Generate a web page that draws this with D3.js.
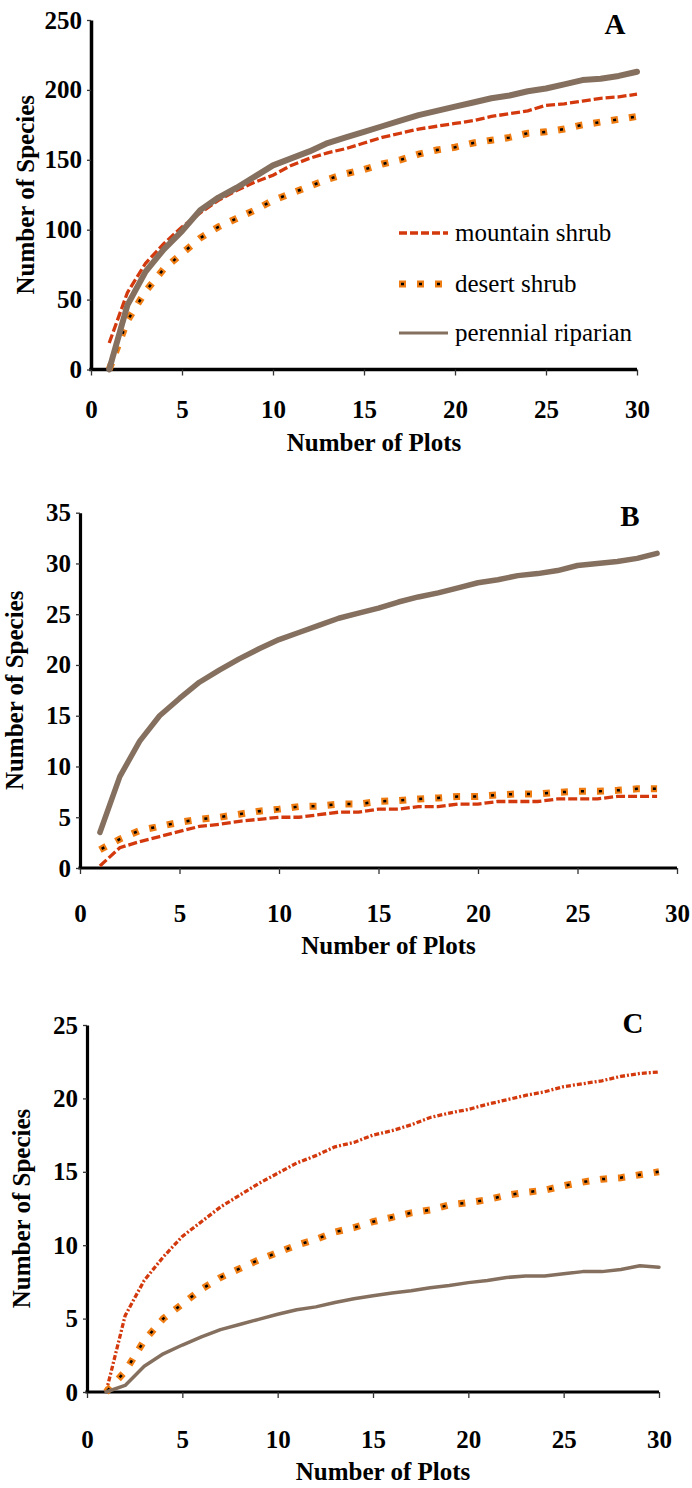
<!DOCTYPE html>
<html>
<head>
<meta charset="utf-8">
<script src="https://cdn.jsdelivr.net/npm/d3@7"></script>
<style>
  body { margin: 0; background: #fff; }
  svg { display: block; }
  text { font-family: "Liberation Serif", "Times New Roman", "DejaVu Serif", serif; }
</style>
</head>
<body>
<svg width="692" height="1488"></svg>
<script>
// number of plots (x values)
var plotsAC = d3.range(1, 31);
var plotsB = d3.range(1, 30);

var xTicks = [0, 5, 10, 15, 20, 25, 30];
var yTicksA = [0, 50, 100, 150, 200, 250];
var yTicksB = [0, 5, 10, 15, 20, 25, 30, 35];
var yTicksC = [0, 5, 10, 15, 20, 25];

var seriesNames = ['mountain shrub', 'desert shrub', 'perennial riparian'];

// panel A
var mountainA = [19, 55, 76, 90, 102, 112, 121, 128, 134, 139, 146, 151, 155, 158, 162,
    166, 169, 172, 174, 176, 178, 181, 183, 185, 189, 190, 192, 194, 195, 197];
var desertA = [0, 35, 56, 72, 83, 94, 102, 108, 114, 121, 126, 131, 136, 140, 143,
    147, 150, 154, 157, 159, 162, 164, 166, 169, 170, 172, 175, 177, 179, 181];
var riparianA = [0, 46, 70, 86, 99, 114, 123, 130, 138, 146, 151, 156, 162, 166, 170,
    174, 178, 182, 185, 188, 191, 194, 196, 199, 201, 204, 207, 208, 210, 213];

// panel B
var mountainB = [0.2, 2.0, 2.6, 3.1, 3.6, 4.1, 4.3, 4.6, 4.8, 5.0, 5.0, 5.25, 5.5, 5.5, 5.8,
    5.8, 6.05, 6.05, 6.3, 6.3, 6.55, 6.55, 6.55, 6.8, 6.8, 6.8, 7.05, 7.05, 7.05];
var desertB = [1.8, 2.85, 3.7, 4.1, 4.5, 4.8, 5.0, 5.3, 5.6, 5.8, 6.05, 6.1, 6.3, 6.3, 6.55,
    6.65, 6.8, 6.9, 7.05, 7.05, 7.2, 7.3, 7.3, 7.45, 7.55, 7.55, 7.65, 7.8, 7.8];
var riparianB = [3.5, 9.0, 12.5, 15.0, 16.7, 18.3, 19.5, 20.6, 21.6, 22.5, 23.2, 23.9, 24.6, 25.1, 25.6,
    26.2, 26.7, 27.1, 27.6, 28.1, 28.4, 28.8, 29.0, 29.3, 29.8, 30.0, 30.2, 30.5, 31.0];

// panel C
var mountainC = [0, 5.2, 7.6, 9.2, 10.6, 11.6, 12.6, 13.4, 14.2, 14.9, 15.6, 16.1, 16.7, 17.0, 17.5,
    17.8, 18.2, 18.7, 19.0, 19.25, 19.6, 19.9, 20.2, 20.45, 20.8, 21.0, 21.2, 21.5, 21.7, 21.8];
var desertC = [0, 1.4, 3.5, 5.0, 6.0, 7.0, 7.8, 8.4, 9.0, 9.5, 10.0, 10.4, 10.9, 11.2, 11.6,
    11.9, 12.2, 12.4, 12.75, 12.9, 13.1, 13.4, 13.6, 13.75, 14.05, 14.3, 14.5, 14.6, 14.8, 15.0];
var riparianC = [0, 0.45, 1.75, 2.6, 3.2, 3.75, 4.25, 4.6, 4.95, 5.3, 5.6, 5.8, 6.1, 6.35, 6.55,
    6.75, 6.9, 7.1, 7.25, 7.45, 7.6, 7.8, 7.9, 7.9, 8.05, 8.2, 8.2, 8.35, 8.6, 8.5];

var RED = '#d3390d', ORANGE = '#ee7c12', BROWN = '#85705f';
var SERIF = '"Liberation Serif", "Times New Roman", "DejaVu Serif", serif';

var svg = d3.select('svg');

function drawPanel(p) {
    var x = d3.scaleLinear().domain([0, 30]).range([p.left, p.right]);
    var y = d3.scaleLinear().domain([0, p.yMax]).range([p.bottom, p.top]);
    var g = svg.append('g');

    // axes
    var xAxis = g.append('g')
        .attr('transform', 'translate(0,' + p.bottom + ')')
        .call(d3.axisBottom(x).tickValues(xTicks).tickSize(6).tickSizeOuter(0).tickPadding(25 + p.shift));
    var yAxis = g.append('g')
        .attr('transform', 'translate(' + p.left + ',0)')
        .call(d3.axisLeft(y).tickValues(p.yTicks).tickSize(4).tickSizeOuter(0).tickPadding(5));

    [xAxis, yAxis].forEach(function(a) {
        a.attr('font-family', SERIF);
        a.select('.domain').attr('stroke', '#000').attr('stroke-width', p.axisWidth);
        a.selectAll('.tick line').attr('stroke', '#333').attr('stroke-width', 1.3);
        a.selectAll('.tick text')
            .attr('fill', '#000')
            .style('font-weight', 'bold')
            .style('font-size', '25px');
    });
    xAxis.select('.domain').attr('d', 'M' + (p.left - p.axisWidth / 2) + ',0H' + p.right);

    var line = d3.line()
        .x(function(d) { return x(d[0]); })
        .y(function(d) { return y(d[1]); });

    var mData = d3.zip(p.xs, p.mountain);
    var dData = d3.zip(p.xs, p.desert);
    var rData = d3.zip(p.xs, p.riparian);

    // mountain shrub
    g.append('path').datum(mData)
        .attr('d', line)
        .attr('fill', 'none')
        .attr('stroke', RED)
        .attr('stroke-width', 3.3)
        .attr('stroke-dasharray', p.dashDot ? '5,2,2,2' : '9,3');

    // desert shrub: orange squares with black centre
    g.append('path').datum(dData)
        .attr('d', line)
        .attr('fill', 'none')
        .attr('stroke', ORANGE)
        .attr('stroke-width', 7)
        .attr('stroke-dasharray', '7,11');
    g.append('path').datum(dData)
        .attr('d', line)
        .attr('fill', 'none')
        .attr('stroke', '#000')
        .attr('stroke-width', 2.5)
        .attr('stroke-dasharray', '3,15')
        .attr('stroke-dashoffset', -2);

    // perennial riparian
    g.append('path').datum(rData)
        .attr('d', line)
        .attr('fill', 'none')
        .attr('stroke', BROWN)
        .attr('stroke-width', p.ripWidth)
        .attr('stroke-linecap', 'round')
        .attr('stroke-linejoin', 'round');

    // titles
    g.append('text')
        .attr('x', (p.left + p.right) / 2 + 10)
        .attr('y', p.bottom + 81 + p.shift)
        .attr('text-anchor', 'middle')
        .attr('font-weight', 'bold')
        .attr('font-size', 25)
        .text('Number of Plots');

    g.append('text')
        .attr('transform', 'translate(' + (p.left - 57) + ',' + ((p.top + p.bottom) / 2) + ') rotate(-90)')
        .attr('text-anchor', 'middle')
        .attr('font-weight', 'bold')
        .attr('font-size', 25)
        .text('Number of Species');

    g.append('text')
        .attr('x', p.letterX)
        .attr('y', p.letterY)
        .attr('text-anchor', 'middle')
        .attr('font-weight', 'bold')
        .attr('font-size', 29)
        .text(p.letter);
}

drawPanel({
    left: 91, right: 637, top: 20, bottom: 369.5, yMax: 250, yTicks: yTicksA,
    xs: plotsAC, mountain: mountainA, desert: desertA, riparian: riparianA,
    ripWidth: 6, axisWidth: 3.5, dashDot: false, shift: 0,
    letter: 'A', letterX: 615, letterY: 34
});
drawPanel({
    left: 80, right: 677, top: 512.7, bottom: 868, yMax: 35, yTicks: yTicksB,
    xs: plotsB, mountain: mountainB, desert: desertB, riparian: riparianB,
    ripWidth: 5.5, axisWidth: 3.2, dashDot: false, shift: 5,
    letter: 'B', letterX: 630, letterY: 526
});
drawPanel({
    left: 87, right: 659, top: 1025, bottom: 1392, yMax: 25, yTicks: yTicksC,
    xs: plotsAC, mountain: mountainC, desert: desertC, riparian: riparianC,
    ripWidth: 3.5, axisWidth: 3.2, dashDot: true, shift: 7,
    letter: 'C', letterX: 633, letterY: 1033
});

// legend (panel A)
var legend = svg.append('g');
var legendY = [233, 284, 333];
var legendStyles = [
    [{stroke: RED, width: 3.3, dash: '8,3'}],
    [{stroke: ORANGE, width: 7, dash: '7,11'}, {stroke: '#000', width: 2.5, dash: '3,15', offset: -2}],
    [{stroke: BROWN, width: 3, dash: null}]
];
seriesNames.forEach(function(name, i) {
    legendStyles[i].forEach(function(s) {
        legend.append('line')
            .attr('x1', 399).attr('x2', 448)
            .attr('y1', legendY[i]).attr('y2', legendY[i])
            .attr('stroke', s.stroke)
            .attr('stroke-width', s.width)
            .attr('stroke-dasharray', s.dash)
            .attr('stroke-dashoffset', s.offset || 0);
    });
    legend.append('text')
        .attr('x', 455)
        .attr('y', legendY[i] + 8)
        .attr('font-size', 25)
        .text(name);
});
</script>
</body>
</html>
